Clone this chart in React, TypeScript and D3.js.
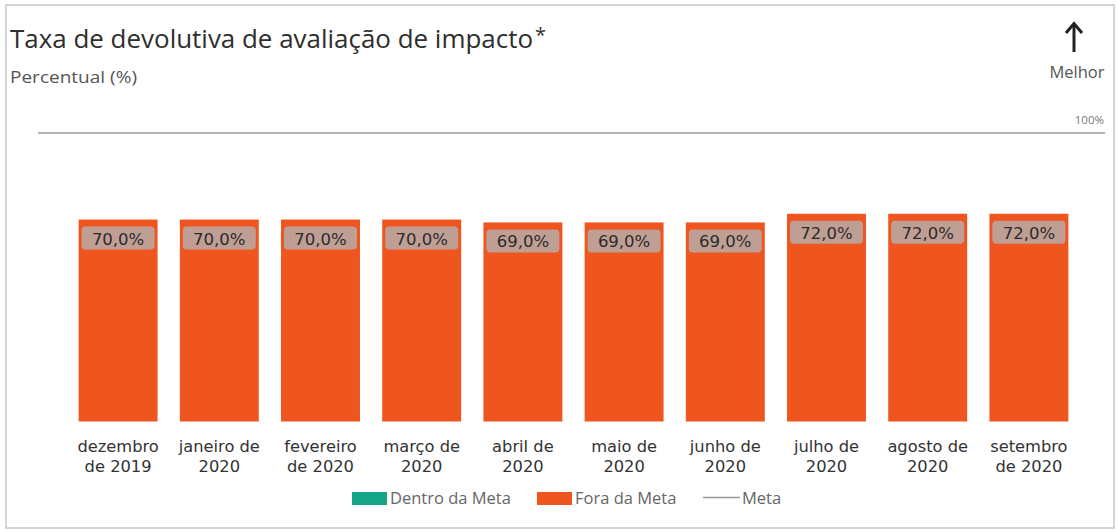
import React from "react";
import * as d3 from "d3";

const categories: string[][] = [
  ["dezembro", "de 2019"],
  ["janeiro de", "2020"],
  ["fevereiro", "de 2020"],
  ["março de", "2020"],
  ["abril de", "2020"],
  ["maio de", "2020"],
  ["junho de", "2020"],
  ["julho de", "2020"],
  ["agosto de", "2020"],
  ["setembro", "de 2020"],
];
const values: number[] = [70, 70, 70, 70, 69, 69, 69, 72, 72, 72];
const legendItems = ["Dentro da Meta", "Fora da Meta", "Meta"];

const W = 1118;
const H = 530;
const ORANGE = "#ef551e";
const GREEN = "#17a589";

export default function App() {
  const x = d3
    .scaleBand<number>()
    .domain(d3.range(values.length))
    .range([67.5, 1079.5])
    .paddingInner(0.22)
    .paddingOuter(0.11);
  const y = d3.scaleLinear().domain([0, 100]).range([421.5, 133]);
  const fmt = (v: number) => d3.format(".1f")(v).replace(".", ",") + "%";
  const labelFont = "'DejaVu Sans', Verdana, sans-serif";
  const uiFont = "'Open Sans', 'Noto Sans', sans-serif";

  return (
    <svg
      width={W}
      height={H}
      style={{ position: "absolute", left: 0, top: 0, background: "#fff" }}
    >
      <rect x={6} y={5} width={1108} height={523} fill="#fff" stroke="#d4d4d4" strokeWidth={2} />
      <text x={10} y={48} fontFamily={uiFont} fontSize={25} fill="#2e2e2e" textLength={523} lengthAdjust="spacingAndGlyphs">
        Taxa de devolutiva de avaliação de impacto
      </text>
      <text x={535} y={42} fontFamily={uiFont} fontSize={20} fill="#333">*</text>
      <text x={10} y={83} fontFamily={uiFont} fontSize={16} fill="#555" textLength={127} lengthAdjust="spacingAndGlyphs">
        Percentual (%)
      </text>
      {/* Melhor arrow */}
      <line x1={1074} y1={52} x2={1074} y2={26} stroke="#222" strokeWidth={3} />
      <path d="M1066,33 L1074,23.5 L1082,33" fill="none" stroke="#222" strokeWidth={3} />
      <text x={1077} y={78} textAnchor="middle" fontFamily={uiFont} fontSize={16} fill="#555" textLength={55} lengthAdjust="spacingAndGlyphs">
        Melhor
      </text>
      <text x={1104} y={124} textAnchor="end" fontFamily={uiFont} fontSize={11.5} fill="#777">
        100%
      </text>
      <line x1={38} x2={1105} y1={y(100)} y2={y(100)} stroke="#b3b3b3" strokeWidth={2} />
      {values.map((v, i) => {
        const bx = x(i)!;
        const bw = x.bandwidth();
        const cx = bx + bw / 2;
        const top = y(v);
        return (
          <g key={i}>
            <rect x={bx} y={top} width={bw} height={y(0) - top} fill={ORANGE} />
            <rect x={cx - 36.5} y={top + 7} width={73} height={23} rx={4} fill="#bf9f93" />
            <text x={cx} y={top + 25} textAnchor="middle" fontFamily={labelFont} fontSize={16.5} fill="#2b2b2b">
              {fmt(v)}
            </text>
            {categories[i].map((line, j) => (
              <text key={j} x={cx} y={451.5 + j * 20} textAnchor="middle" fontFamily={labelFont} fontSize={16.3} fill="#333">
                {line}
              </text>
            ))}
          </g>
        );
      })}
      {/* Legend */}
      <rect x={352} y={492} width={35} height={13} fill={GREEN} />
      <text x={390} y={504} fontFamily={uiFont} fontSize={16.5} fill="#666">{legendItems[0]}</text>
      <rect x={537} y={492} width={35} height={13} fill={ORANGE} />
      <text x={575} y={504} fontFamily={uiFont} fontSize={16.5} fill="#666">{legendItems[1]}</text>
      <line x1={703} x2={740} y1={497.5} y2={497.5} stroke="#999" strokeWidth={1.5} />
      <text x={742} y={504} fontFamily={uiFont} fontSize={16.5} fill="#666">{legendItems[2]}</text>
    </svg>
  );
}
